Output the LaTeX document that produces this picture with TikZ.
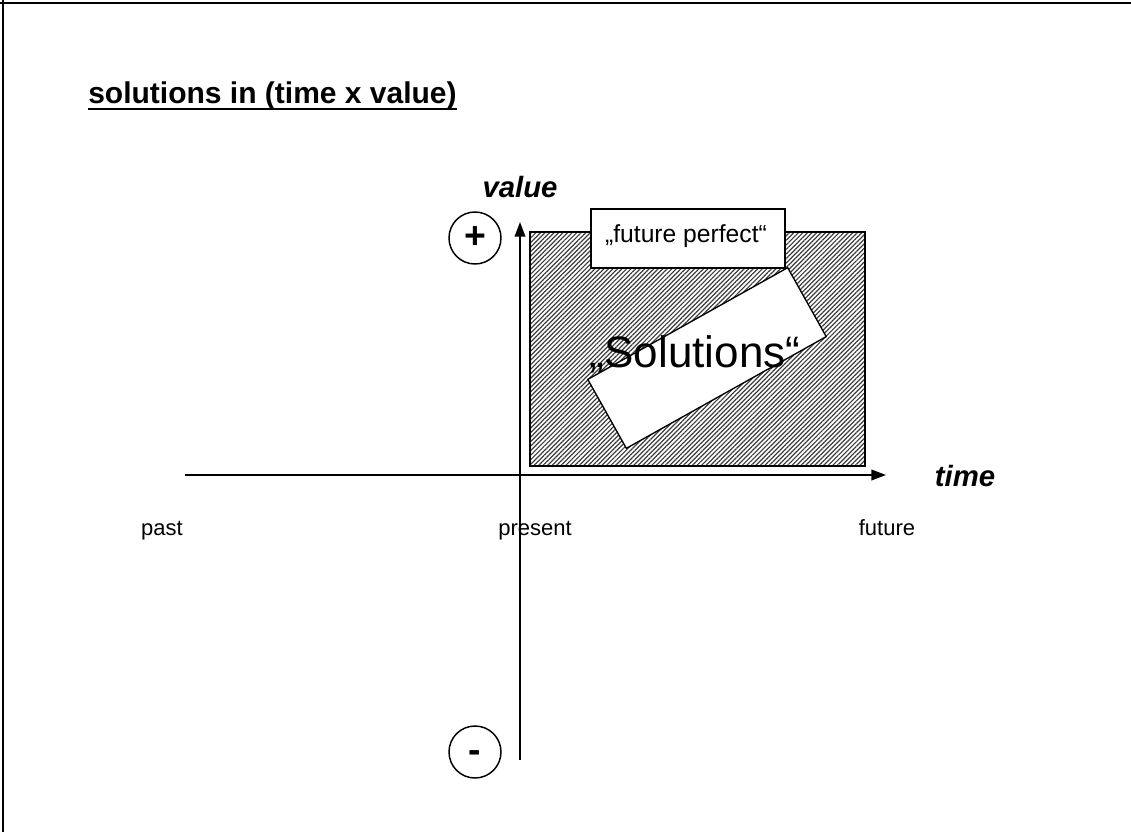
\documentclass[tikz,border=0pt]{standalone}
\usepackage{fontspec}
\setmainfont{Liberation Sans}
\usetikzlibrary{arrows.meta,patterns.meta}
\definecolor{hatchgray}{RGB}{60,60,60}
\tikzset{
  frameline/.style={line width=1.5pt, black},
  axis/.style={-{Triangle[length=11pt, width=8pt]}, line width=1.2pt},
  axlbl/.style={font=\fontsize{22}{26}\selectfont\bfseries\itshape},
  tick/.style={anchor=base, font=\fontsize{16.5}{20}\selectfont},
  sign/.style={circle, draw, line width=1.1pt, minimum size=39pt, inner sep=0pt,
               font=\fontsize{28}{30}\selectfont\bfseries},
  hatched/.style={draw, line width=1.3pt,
                  pattern={Lines[angle=45, distance=2.4pt, line width=0.9pt]},
                  pattern color=hatchgray},
  tagbox/.style={draw, fill=white, line width=1pt, inner sep=0pt},
}

\begin{document}
\begin{tikzpicture}[x=0.75pt, y=-0.75pt]
    \useasboundingbox (0,0) rectangle (1131,832);
    % border, top and left only
    \draw[frameline] (0,3) -- (1131,3);
    \draw[frameline] (3,0) -- (3,832);
    \node[anchor=base west, inner sep=0pt, font=\fontsize{22.5}{26}\selectfont\bfseries] (title) at (88,103)
      {solutions in (time x value)};
    \draw[line width=1.5pt] ([yshift=-4.5pt]title.base west) -- ([yshift=-4.5pt]title.base east);

    % region of solutions
    \draw[hatched] (530,232) rectangle (865,466);
    \node[tagbox, minimum width=145.5pt, minimum height=44.25pt] (perfect) at (688,238.5) {};
    \node[font=\fontsize{18.5}{20}\selectfont] (perfectTxt) at (686,236) {„future perfect“};
    \node[tagbox, rotate=29.2, minimum width=171.75pt, minimum height=59.25pt] (solBox) at (707,358) {};
    \node[font=\fontsize{33}{36}\selectfont] (solTxt) at (695,354) {„Solutions“};

    % axes
    \coordinate (xStart) at (185,475);
    \coordinate (xEnd) at (886,475);
    \coordinate (yStart) at (520,760);
    \coordinate (yEnd) at (520,222);
    \draw[axis] (xStart) -- (xEnd);
    \draw[axis] (yStart) -- (yEnd);
    \node[axlbl] (valueLbl) at (520,187) {value};
    \node[axlbl] (timeLbl) at (965,476) {time};
    \node[sign] (plus) at (475,238) {+};
    \node[sign, text height=0pt, text depth=0pt] (minus) at (475,752) {\raisebox{-8pt}{-}};

    \node[tick] (past) at (162,535) {past};
    \node[tick] (present) at (535,535) {present};
    \node[tick] (future) at (887,535) {future};
\end{tikzpicture}
\end{document}
